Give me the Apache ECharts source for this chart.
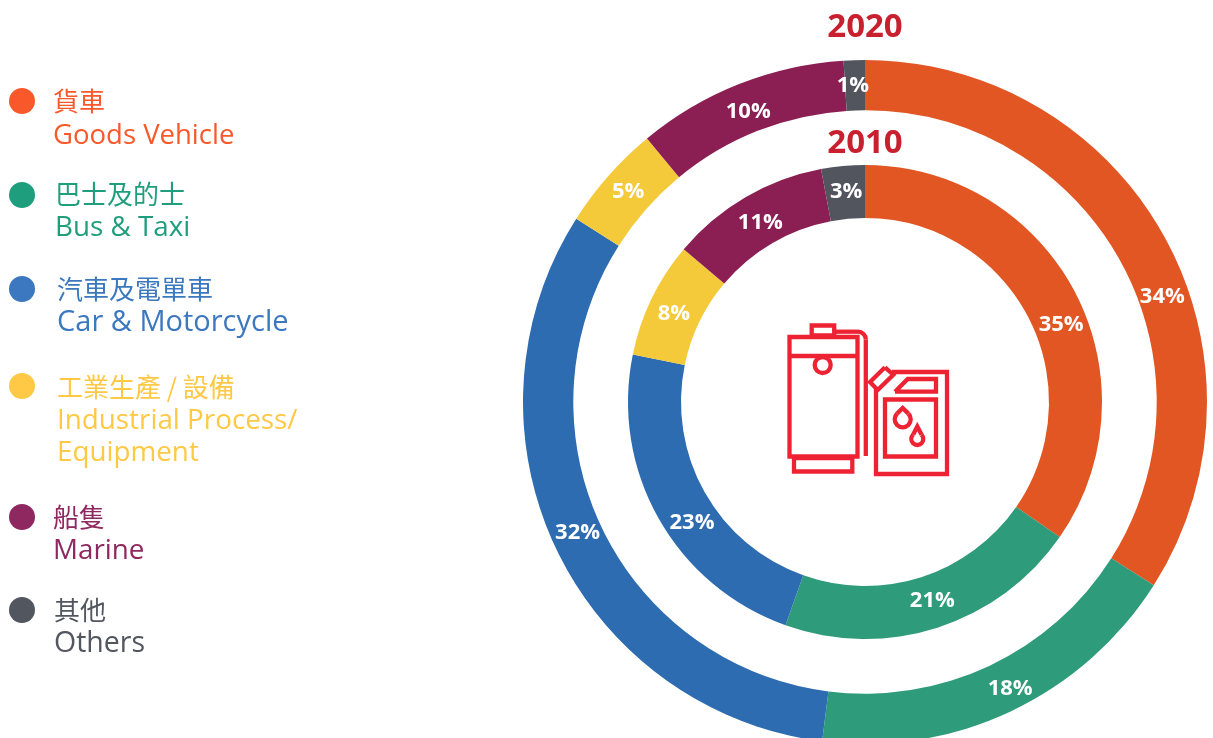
<!DOCTYPE html>
<html><head><meta charset="utf-8">
<style>html,body{margin:0;padding:0;background:#fff}#c{width:1213px;height:738px}</style>
<script src="https://cdn.jsdelivr.net/npm/echarts@6/dist/echarts.min.js"></script>
</head><body><div id="c"></div>
<script>
const namesZh = ['貨車','巴士及的士','汽車及電單車','工業生產 / 設備','船隻','其他'];
const namesEn = [['Goods Vehicle'],['Bus & Taxi'],['Car & Motorcycle'],['Industrial Process/','Equipment'],['Marine'],['Others']];
const values2020 = [34,18,32,5,10,1];
const values2010 = [35,21,23,8,11,3];
const years = ['2020','2010'];

const sliceColors = ['#E15623','#2E9B7A','#2D6CB0','#F4CA3B','#8B1F54','#52555E'];
const legendColors = ['#F9582A','#1F9E7D','#3B78BF','#FFC845','#8F2860','#52565F'];
const legendRows = [[22,101,53,101,136],[22,195,55,194,228],[22,289,57,289,323],[22,386,57,387,421],[22,517,53,517,551],[22,610,54,610,644]];
const legendSizes = [27.5,27.8,29,27.8,27.8,28.5];
const offsets2020 = [[17,49],[9,-3],[2,-5],[3,1],[1,7],[-2,3]];
const offsets2010 = [[7,22],[2,-5],[13,16],[1,5],[3,5],[1,2]];
const sans = '"Open Sans","Noto Sans CJK TC",sans-serif';
const cx = 865, cy = 402;

function pie(name, vals, offs, radius){
  return {type:'pie',name,center:[cx,cy],radius,startAngle:90,silent:true,animation:false,
    avoidLabelOverlap:false,labelLine:{show:false},
    label:{show:true,position:'inside',formatter:'{c}%',color:'#fff',fontFamily:sans,fontWeight:700,fontSize:22},
    data:vals.map((v,i)=>({value:v,name:namesEn[i].join(' '),itemStyle:{color:sliceColors[i]},label:{offset:offs[i]}}))};
}

const g = [];
legendRows.forEach((r,i)=>{
  g.push({type:'circle',shape:{cx:r[0],cy:r[1],r:13},style:{fill:legendColors[i]}});
  g.push({type:'text',x:r[2],y:r[3],style:{text:namesZh[i],fill:legendColors[i],font:'400 26px "Noto Sans CJK TC",sans-serif',textAlign:'left',textVerticalAlign:'middle'}});
  namesEn[i].forEach((t,k)=>g.push({type:'text',x:r[2],y:r[4]+k*32,style:{text:t,fill:legendColors[i],font:'400 '+legendSizes[i]+'px '+sans,textAlign:'left',textVerticalAlign:'middle'}}));
});
[[28],[144]].forEach((p,i)=>g.push({type:'text',x:cx,y:p[0],style:{text:years[i],fill:'#C8202E',font:'700 33px '+sans,textAlign:'center',textVerticalAlign:'middle'}}));

const ic = {stroke:'#ED2333',fill:'none',lineWidth:4.3};
const rect=(x,y,w,h)=>({type:'rect',shape:{x,y,width:w,height:h},style:ic});
const line=(pts)=>({type:'polyline',shape:{points:pts},style:{...ic,lineJoin:'miter'}});
const drop=(x,y,r,tip)=>[{type:'arc',shape:{cx:x,cy:y,r,startAngle:-Math.PI/4,endAngle:Math.PI*5/4},style:ic},
  line([[x-r*0.707,y-r*0.707],[x,tip],[x+r*0.707,y-r*0.707]])];
g.push(rect(789.5,337,68,119.5),rect(811.7,325.5,22.5,10),rect(794,458,58.3,13.5),
  line([[789.5,356],[857.5,356]]),
  {type:'arc',shape:{cx:822.7,cy:365,r:8,startAngle:0,endAngle:Math.PI*2},style:ic},
  line([[834,331.7],[858,331.7]]),
  {type:'arc',shape:{cx:858,cy:339.5,r:7.8,startAngle:-Math.PI/2,endAngle:0},style:ic},
  line([[865.8,339.5],[865.8,456]]),
  line([[876,388],[876,474],[947,474],[947,372],[892,372]]),
  line([[885,367.3],[893.3,374.7],[877.7,390],[870,382],[885,367.3]]),
  line([[895,391.7],[907.7,379],[936,379],[936,391.7],[895,391.7]]),
  rect(885,399.5,51,57),
  ...drop(902.7,419.3,8,408),...drop(917.3,439,6,426.5));

const chart = echarts.init(document.getElementById('c'),null,{renderer:'canvas'});
chart.setOption({animation:false,backgroundColor:'#fff',
  series:[pie(years[0],values2020,offsets2020,[291.7,342]),pie(years[1],values2010,offsets2010,[184,237])],
  graphic:{elements:g}});
</script></body></html>
